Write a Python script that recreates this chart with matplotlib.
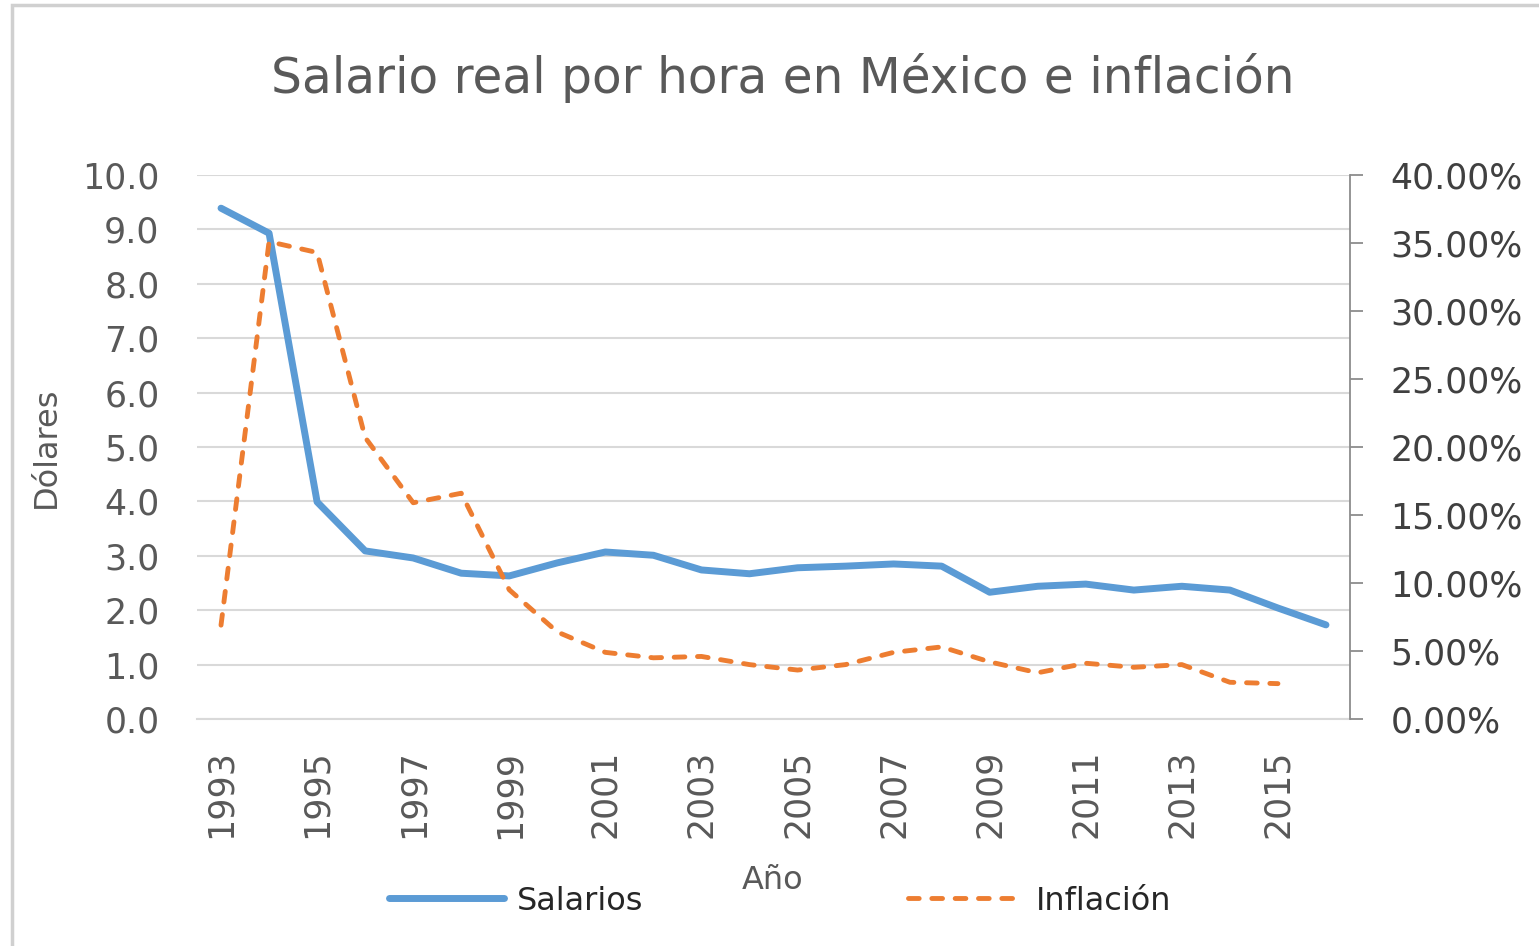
import matplotlib

matplotlib.use("Agg")
import matplotlib.pyplot as plt
from matplotlib.patches import Rectangle
from matplotlib.ticker import FuncFormatter

years = list(range(1993, 2017))
salarios = [9.39, 8.93, 3.99, 3.09, 2.96, 2.68, 2.63, 2.87, 3.07, 3.01, 2.74, 2.67,
            2.78, 2.81, 2.85, 2.81, 2.33, 2.44, 2.48, 2.37, 2.44, 2.37, 2.04, 1.73]
# inflación (%), sin dato para 2016
inflacion = [6.9, 35.1, 34.3, 20.7, 15.9, 16.6, 9.5, 6.4, 4.9, 4.5, 4.6, 4.0,
             3.6, 4.0, 4.9, 5.3, 4.2, 3.4, 4.1, 3.8, 4.0, 2.7, 2.6]

BLUE = "#5B9BD5"
ORANGE = "#ED7D31"
TEXT = "#595959"
GRID = "#D9D9D9"

plt.rcParams["font.family"] = ["DejaVu Sans"]

fig = plt.figure(figsize=(15.39, 9.46), dpi=100)
fig.patches.append(Rectangle((12 / 1539, -0.01), 1.1, 1 - 5 / 946 + 0.01,
                             transform=fig.transFigure, fill=False,
                             edgecolor="#D0D0D0", linewidth=2.5))

ax = fig.add_axes([197 / 1539, 1 - 719 / 946, (1350 - 197) / 1539, (719 - 175) / 946])
ax2 = ax.twinx()

x = list(range(len(years)))
ax.plot(x, salarios, color=BLUE, linewidth=5, solid_capstyle="round",
        solid_joinstyle="round", label="Salarios", zorder=3)
ax2.plot(x[:len(inflacion)], inflacion, color=ORANGE, linewidth=3.5,
         dashes=(2.2, 2.6), dash_capstyle="round", label="Inflación", zorder=3)

ax.set_xlim(-0.5, len(years) - 0.5)
ax.set_ylim(0, 10)
ax2.set_ylim(0, 40)
ax.set_yticks(range(0, 11))
ax.yaxis.set_major_formatter(FuncFormatter(lambda v, p: f"{v:.1f}"))
ax2.set_yticks(range(0, 41, 5))
ax2.yaxis.set_major_formatter(FuncFormatter(lambda v, p: f"{v:.2f}%"))

ax.set_xticks(x[::2])
ax.set_xticklabels([str(y) for y in years[::2]], rotation=90)

ax.grid(axis="y", color=GRID, linewidth=1.5)
ax.set_axisbelow(True)
for s in ["top", "left", "right", "bottom"]:
    ax.spines[s].set_visible(False)
    ax2.spines[s].set_visible(False)
ax.spines["bottom"].set_visible(True)
ax.spines["bottom"].set_color(GRID)
ax.spines["bottom"].set_linewidth(1.5)
ax2.spines["right"].set_visible(True)
ax2.spines["right"].set_color("#8C8C8C")
ax2.spines["right"].set_linewidth(1.3)

ax.tick_params(axis="y", length=0, pad=27, labelsize=25, labelcolor=TEXT)
ax.tick_params(axis="x", length=0, pad=22, labelsize=25, labelcolor=TEXT)
ax2.tick_params(axis="y", length=9, width=1.3, color="#8C8C8C", pad=20,
                labelsize=25, labelcolor="#404040")

fig.text(783 / 1539, 1 - 78 / 946, "Salario real por hora en México e inflación",
         ha="center", va="center", fontsize=35, color=TEXT)
fig.text(46 / 1539, 1 - 447 / 946, "Dólares", rotation=90, ha="center",
         va="center", fontsize=23, color=TEXT)
fig.text(773 / 1539, 1 - 880 / 946, "Año", ha="center", va="center",
         fontsize=23, color=TEXT)

h1, l1 = ax.get_legend_handles_labels()
h2, l2 = ax2.get_legend_handles_labels()
fig.legend(h1 + h2, l1 + l2, loc="center", bbox_to_anchor=(780 / 1539, 1 - 901 / 946),
           ncol=2, frameon=False, fontsize=23, handlelength=3.6,
           handletextpad=0.4, columnspacing=8.3, labelcolor="#262626")

fig.savefig("out.png", dpi=100)
